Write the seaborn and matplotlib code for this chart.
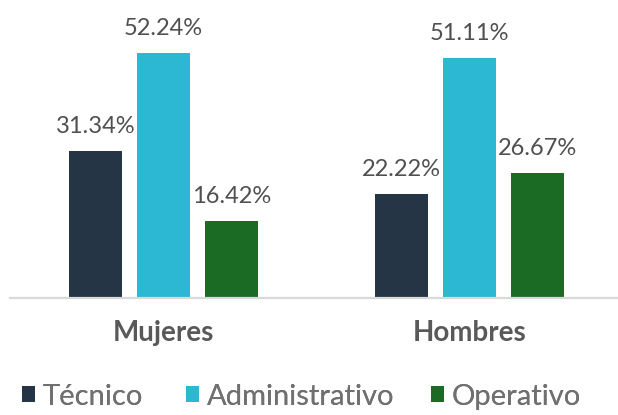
import matplotlib
matplotlib.use("Agg")
import matplotlib.pyplot as plt
import seaborn as sns
import pandas as pd
from matplotlib.patches import Patch

# Data
grupos = ["Mujeres", "Hombres"]
puestos = ["Técnico", "Administrativo", "Operativo"]
mujeres = [31.34, 52.24, 16.42]
hombres = [22.22, 51.11, 26.67]
colores = ["#253545", "#2cb8d3", "#1b6b24"]

df = pd.DataFrame({
    "grupo": [g for g in grupos for _ in puestos],
    "puesto": puestos * 2,
    "valor": mujeres + hombres,
})

sns.set_theme(style="white")
plt.rcParams["font.family"] = ["Lato", "DejaVu Sans"]

fig = plt.figure(figsize=(6.18, 4.15), dpi=100)
ax = fig.add_axes([10 / 618, 1 - 298 / 415, 608 / 618, 298 / 415])

sns.barplot(data=df, x="grupo", y="valor", hue="puesto", order=grupos,
            hue_order=puestos, palette=colores, saturation=1, width=0.667,
            gap=0.22, linewidth=0, legend=False, ax=ax)

ax.set_xlim(-0.5016, 1.4853)
ax.set_ylim(0, 63.5)

# value labels above each bar
for bars in ax.containers:
    for b in bars:
        h = b.get_height()
        ax.annotate(f"{h:.2f}%", (b.get_x() + b.get_width() / 2, h),
                    xytext=(0, 13), textcoords="offset points",
                    ha="center", va="baseline", fontsize=17,
                    fontweight="normal", color="#505050")

for s in ["top", "right", "left"]:
    ax.spines[s].set_visible(False)
ax.spines["bottom"].set_color("#d9d9d9")
ax.spines["bottom"].set_linewidth(1.6)
ax.set_yticks([])
ax.set_xlabel("")
ax.set_ylabel("")
ax.tick_params(axis="x", length=0, pad=16)
for t in ax.get_xticklabels():
    t.set_fontsize(20)
    t.set_fontweight("bold")
    t.set_color("#595959")

# legend entries placed one by one to follow the reference spacing
legend_x = [7, 171, 416]
for c, lab, x in zip(colores, puestos, legend_x):
    leg = fig.legend([Patch(facecolor=c, edgecolor="none")], [lab],
                     loc="lower left", bbox_to_anchor=(x / 618, -0.022),
                     frameon=False, handlelength=0.47, handleheight=0.47,
                     handletextpad=0.25, borderpad=0, labelcolor="#707070",
                     prop={"weight": "normal", "size": 21})
    fig.add_artist(leg)

fig.savefig("out.png", dpi=100)
